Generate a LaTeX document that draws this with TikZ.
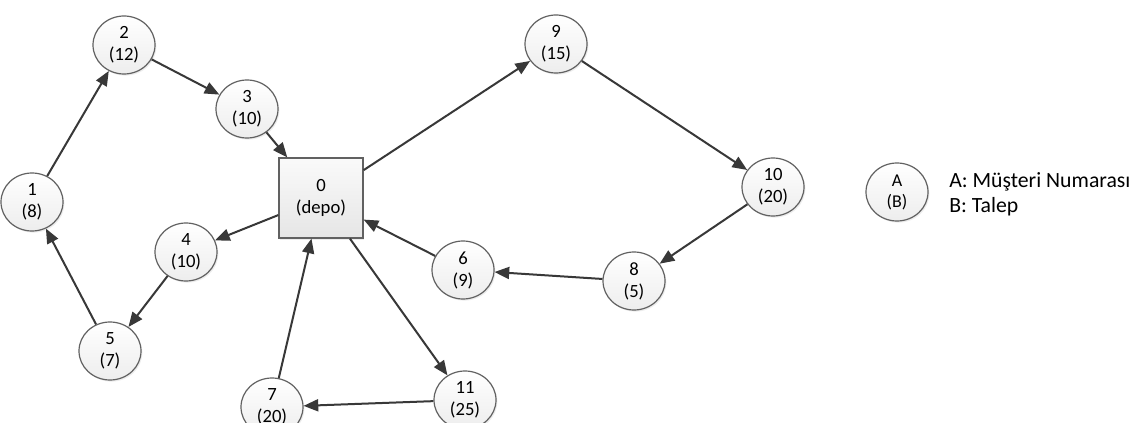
\documentclass[tikz,border=0pt]{standalone}
\usepackage{fontspec}
\setmainfont{Carlito}
\usetikzlibrary{shapes.geometric,arrows.meta,shadows}
\begin{document}
\begin{tikzpicture}[x=0.75pt,y=-0.75pt,
  cust/.style={ellipse, draw=black!62, line width=0.9pt, top color=white, bottom color=black!7,
    minimum width=46.5pt, minimum height=43.5pt, inner sep=0pt, align=center,
    font=\fontsize{14}{16.5}\selectfont,
    drop shadow={opacity=0.15, shadow xshift=1pt, shadow yshift=-1.2pt}},
  depot/.style={rectangle, draw=black!62, line width=0.9pt, top color=black!2, bottom color=black!10,
    minimum width=63pt, minimum height=60pt, inner sep=0pt, align=center,
    font=\fontsize{14}{16.5}\selectfont,
    drop shadow={opacity=0.15, shadow xshift=1pt, shadow yshift=-1.2pt}},
  legcust/.style={cust, font=\fontsize{13.5}{15.75}\selectfont},
  legtext/.style={anchor=west, inner sep=0pt, align=left, font=\fontsize{16.3}{18.75}\selectfont},
  conn/.style={draw=black!78, line width=1.5pt, -{Triangle[length=11pt,width=9pt]}}
]
\clip (0,0) rectangle (1134,423);
\fill[white] (0,0) rectangle (1134,423);

\node[depot] (n0) at (321,198) {0\\(depo)};
\node[cust] (n1) at (32,202) {1\\(8)};
\node[cust] (n2) at (124,45) {2\\(12)};
\node[cust] (n3) at (247,109) {3\\(10)};
\node[cust] (n4) at (186,252) {4\\(10)};
\node[cust] (n5) at (110,351) {5\\(7)};
\node[cust] (n6) at (463,270) {6\\(9)};
\node[cust] (n7) at (272,407) {7\\(20)};
\node[cust] (n8) at (634,281) {8\\(5)};
\node[cust] (n9) at (556,44) {9\\(15)};
\node[cust] (n10) at (773,187) {10\\(20)};
\node[cust] (n11) at (465,400) {11\\(25)};

\node[legcust] (leg) at (897,192) {A\\(B)};
\node[legtext] (legt) at (949,194.5) {A: Müşteri Numarası\\B: Talep};

\draw[conn] (n1) -- (n2);
\draw[conn] (n2) -- (n3);
\draw[conn] (n3) -- (n0);
\draw[conn] (n0) -- (n4);
\draw[conn] (n4) -- (n5);
\draw[conn] (n5) -- (n1);
\draw[conn] (n0) -- (n9);
\draw[conn] (n9) -- (n10);
\draw[conn] (n10) -- (n8);
\draw[conn] (n8) -- (n6);
\draw[conn] (n6) -- (n0);
\draw[conn] (n0) -- (n11);
\draw[conn] (n11) -- (n7);
\draw[conn] (n7) -- (n0);
\end{tikzpicture}
\end{document}
